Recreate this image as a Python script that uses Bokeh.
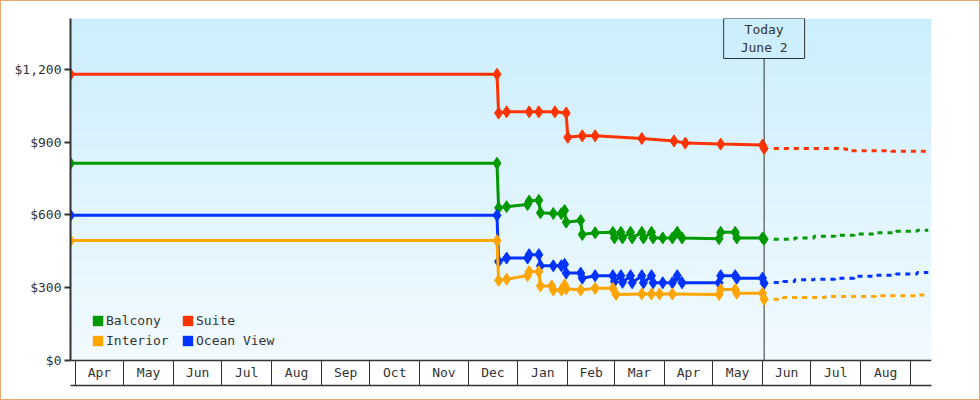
import numpy as np
import pandas as pd
from bokeh.plotting import figure
from bokeh.models import (Range1d, FixedTicker, DatetimeAxis, LinearAxis, DatetimeTickFormatter,
                          NumeralTickFormatter, Label, Legend, LegendItem, Grid)
from bokeh.embed import file_html
from bokeh.resources import INLINE

# ---------------- data ----------------
range_start = "2023-03-29"
range_end = "2024-09-14"
today = "2024-06-02"
today_text = "Today\nJune 2"
y_max = 1410
y_ticks = [0, 300, 600, 900, 1200]
month_starts = pd.date_range("2023-04-01", "2024-09-01", freq="MS")

balcony_dates = ["2023-03-29", "2023-12-19", "2023-12-20", "2023-12-25", "2024-01-07", "2024-01-08",
                 "2024-01-14", "2024-01-15", "2024-01-23", "2024-01-28", "2024-01-30", "2024-01-31",
                 "2024-02-09", "2024-02-10", "2024-02-18", "2024-02-29", "2024-03-01", "2024-03-05",
                 "2024-03-06", "2024-03-11", "2024-03-12", "2024-03-18", "2024-03-19", "2024-03-24",
                 "2024-03-25", "2024-03-31", "2024-04-06", "2024-04-09", "2024-04-12", "2024-05-05",
                 "2024-05-06", "2024-05-15", "2024-05-16", "2024-06-01", "2024-06-02"]
balcony = [813, 813, 629, 634, 643, 657, 660, 609, 606, 605, 618, 570, 577, 519, 526, 528, 505, 528,
           505, 528, 505, 528, 505, 528, 505, 505, 505, 528, 505, 502, 528, 528, 505, 505, 500]

ocean_dates = balcony_dates
ocean = [598, 598, 408, 422, 422, 436, 436, 390, 390, 390, 396, 360, 360, 339, 349, 349, 325, 349,
         322, 349, 320, 349, 320, 349, 320, 320, 320, 349, 320, 320, 349, 349, 339, 339, 318]

interior_dates = ["2023-03-29", "2023-12-19", "2023-12-20", "2023-12-25", "2024-01-07", "2024-01-08",
                  "2024-01-14", "2024-01-15", "2024-01-22", "2024-01-23", "2024-01-28", "2024-01-30",
                  "2024-01-31", "2024-02-09", "2024-02-18", "2024-02-29", "2024-03-02", "2024-03-18",
                  "2024-03-24", "2024-03-29", "2024-04-06", "2024-05-05", "2024-05-06", "2024-05-15",
                  "2024-05-16", "2024-06-01", "2024-06-02"]
interior = [494, 494, 330, 335, 350, 366, 366, 307, 307, 290, 290, 311, 295, 290, 297, 297, 272, 274,
            274, 274, 274, 272, 292, 292, 277, 277, 252]

suite_dates = ["2023-03-29", "2023-12-19", "2023-12-20", "2023-12-25", "2024-01-08", "2024-01-14",
               "2024-01-24", "2024-01-31", "2024-02-01", "2024-02-10", "2024-02-18", "2024-03-18",
               "2024-04-07", "2024-04-14", "2024-05-06", "2024-06-01", "2024-06-02"]
suite = [1180, 1180, 1020, 1025, 1025, 1025, 1025, 1020, 920, 926, 926, 915, 905, 896, 892, 888, 874]

# forecasts (after today)
balcony_fc_dates = ["2024-06-08", "2024-06-21", "2024-07-03", "2024-07-16", "2024-07-28",
                    "2024-08-10", "2024-08-23", "2024-09-05", "2024-09-12"]
balcony_fc = [500, 505, 512, 516, 521, 526, 533, 537, 537]
ocean_fc_dates = ["2024-06-08", "2024-06-14", "2024-06-21", "2024-07-03", "2024-07-16", "2024-07-28",
                  "2024-08-10", "2024-08-23", "2024-09-05", "2024-09-12"]
ocean_fc = [321, 325, 332, 335, 339, 347, 351, 356, 362, 362]
interior_fc_dates = ["2024-06-08", "2024-06-14", "2024-07-10", "2024-08-10", "2024-09-05", "2024-09-12"]
interior_fc = [252, 259, 263, 266, 270, 270]
suite_fc_dates = ["2024-06-08", "2024-07-22", "2024-07-26", "2024-08-20", "2024-09-12"]
suite_fc = [874, 871, 865, 862, 862]

names = ["Balcony", "Suite", "Interior", "Ocean View"]
colors = {"Balcony": "#009900", "Suite": "#ff3300", "Interior": "#ffa500", "Ocean View": "#0033ff"}

# ---------------- style ----------------
FONT = "DejaVu Sans Mono"
DARK = "#333333"
BORDER = "#e9a96b"
BG_TOP = (204, 238, 252)
BG_BOTTOM = (242, 250, 255)
PLOT_PX = 340      # height of the price area in pixels
BOX_PX = 25        # height of the month boxes in pixels


def ms(v):
    idx = pd.to_datetime(v)
    return list(((idx - pd.Timestamp("1970-01-01")) // pd.Timedelta(milliseconds=1)).astype(float))


x0 = pd.Timestamp(range_start)
x1 = pd.Timestamp(range_end)
y_start = -y_max * BOX_PX / PLOT_PX

p = figure(width=978, height=398, x_range=Range1d(x0, x1), y_range=Range1d(y_start, y_max),
           x_axis_location=None, y_axis_location=None, toolbar_location=None,
           output_backend="svg", min_border_left=69, min_border_right=50,
           min_border_top=17, min_border_bottom=16, outline_line_color=None,
           border_fill_color="white", background_fill_color="white")
p.styles = {"border": "1px solid " + BORDER, "box-sizing": "content-box"}
for g in p.select(type=Grid):
    g.visible = False

# gradient background of the price area
N = PLOT_PX
img = np.empty((N, 1), dtype=np.uint32)
view = img.view(dtype=np.uint8).reshape((N, 1, 4))
t = np.linspace(0, 1, N)
for k in range(3):
    view[:, 0, k] = np.round(BG_BOTTOM[k] + (BG_TOP[k] - BG_BOTTOM[k]) * t).astype(np.uint8)
view[:, 0, 3] = 255
xs0 = ms([range_start])[0]
xs1 = ms([range_end])[0]
p.image_rgba(image=[img], x=xs0, y=0, dw=xs1 - xs0, dh=y_max, level="image")

# y axis (line only over the price area)
yaxis = LinearAxis(ticker=FixedTicker(ticks=y_ticks), formatter=NumeralTickFormatter(format="$0,0"),
                   bounds=(0, y_max),
                   axis_line_width=2, axis_line_color=DARK, major_tick_out=6, major_tick_in=0,
                   major_tick_line_width=2, major_tick_line_color=DARK, minor_tick_line_color=None,
                   major_label_text_font=FONT, major_label_text_font_size="13px",
                   major_label_text_color=DARK, major_label_standoff=3)
p.add_layout(yaxis, "left")

# month names centred in their boxes (axis at price 0)
mids = month_starts[:-1] + (month_starts[1:] - month_starts[:-1]) / 2
fmt = DatetimeTickFormatter(microseconds="%b", milliseconds="%b", seconds="%b", minsec="%b",
                            minutes="%b", hourmin="%b", hours="%b", days="%b", months="%b", years="%b")
xaxis = DatetimeAxis(ticker=FixedTicker(ticks=ms(mids)), formatter=fmt, fixed_location=0,
                     major_tick_line_color=None, major_tick_out=0, major_tick_in=0,
                     minor_tick_line_color=None, minor_tick_out=0, minor_tick_in=0,
                     axis_line_color=DARK, axis_line_width=1.5,
                     major_label_text_font=FONT, major_label_text_font_size="13px",
                     major_label_text_color=DARK, major_label_standoff=5)
p.add_layout(xaxis, "below")
# month dividers and bottom rule
divider_axis = DatetimeAxis(ticker=FixedTicker(ticks=[], minor_ticks=ms(month_starts)),
                            major_tick_line_color=None, major_tick_out=0, major_tick_in=0,
                            minor_tick_line_color=DARK, minor_tick_out=0, minor_tick_in=BOX_PX,
                            minor_tick_line_width=1,
                            axis_line_color=DARK, axis_line_width=1.5)
p.add_layout(divider_axis, "below")

# today marker line over the price area
td = pd.to_datetime([today])
p.segment(x0=td, y0=[0], x1=td, y1=[y_max], line_color=DARK, line_width=1)

# series
hist = {"Balcony": (balcony_dates, balcony), "Suite": (suite_dates, suite),
        "Interior": (interior_dates, interior), "Ocean View": (ocean_dates, ocean)}
fc = {"Balcony": (balcony_fc_dates, balcony_fc), "Suite": (suite_fc_dates, suite_fc),
      "Interior": (interior_fc_dates, interior_fc), "Ocean View": (ocean_fc_dates, ocean_fc)}

legend_renderers = {}
for name in ["Balcony", "Suite", "Ocean View", "Interior"]:
    c = colors[name]
    d, v = hist[name]
    dd = pd.to_datetime(d)
    p.line(dd, v, line_color=c, line_width=3)
    p.scatter(dd, v, marker="diamond", size=12, fill_color=c, line_color=c, line_width=1)
    fd, fv = fc[name]
    p.step(pd.to_datetime(fd), fv, mode="after", line_color=c, line_width=3, line_dash="5 5")
    legend_renderers[name] = p.quad(left=[dd[0]], right=[dd[0]], top=[v[0]], bottom=[v[0]],
                                    fill_color=c, line_color=None, visible=False)

legend = Legend(items=[LegendItem(label=n, renderers=[legend_renderers[n]]) for n in names],
                location=(21, 37), orientation="horizontal", ncols=2,
                border_line_color=None, background_fill_alpha=0, padding=0, margin=0, spacing=5,
                glyph_width=13, glyph_height=13, label_standoff=2, label_width=70, label_height=13,
                label_text_font=FONT, label_text_font_size="13px", label_text_color=DARK,
                click_policy="none")
p.add_layout(legend)

p.add_layout(Label(x=ms([today])[0], y=y_max, text=today_text, text_align="center",
                   text_baseline="top", y_offset=0, text_font=FONT, text_font_size="13px",
                   text_color=DARK, text_line_height=1.2, border_line_color=DARK, border_line_width=1,
                   background_fill_color="#cdeefc", padding=(17, 17, 3, 4)))

open("out.html", "w").write(file_html(p, INLINE))
